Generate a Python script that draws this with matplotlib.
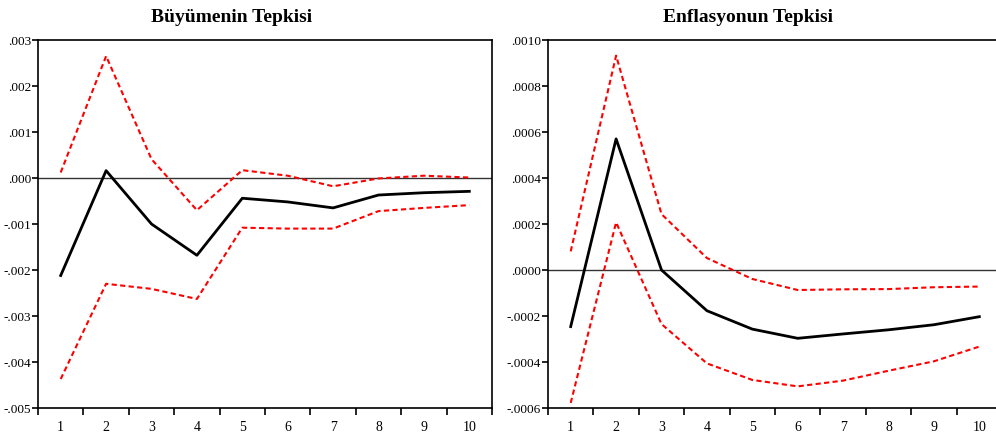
import matplotlib
matplotlib.use("Agg")
import matplotlib.pyplot as plt
from matplotlib.ticker import FuncFormatter, FixedLocator
import numpy as np

plt.rcParams['font.family'] = ['Liberation Serif', 'DejaVu Serif']

periods = np.arange(1, 11)

# Büyümenin Tepkisi
growth_resp = [-0.00212, 0.00016, -0.00100, -0.00168, -0.00044, -0.00052, -0.00065, -0.00037, -0.00032, -0.00029]
growth_upper = [0.00012, 0.00265, 0.00041, -0.00070, 0.00017, 0.00005, -0.00018, -0.00001, 0.00005, 0.00001]
growth_lower = [-0.00437, -0.00230, -0.00241, -0.00263, -0.00108, -0.00110, -0.00110, -0.00072, -0.00065, -0.00059]

# Enflasyonun Tepkisi
infl_resp = [-0.000246, 0.000570, 0.000000, -0.000177, -0.000257, -0.000297, -0.000278, -0.000260, -0.000238, -0.000203]
infl_upper = [0.000081, 0.000932, 0.000243, 0.000052, -0.000039, -0.000087, -0.000084, -0.000083, -0.000075, -0.000072]
infl_lower = [-0.000578, 0.000207, -0.000235, -0.000406, -0.000478, -0.000506, -0.000481, -0.000438, -0.000397, -0.000333]

growth_ticks = [-0.005, -0.004, -0.003, -0.002, -0.001, 0.0, 0.001, 0.002, 0.003]
infl_ticks = [-0.0006, -0.0004, -0.0002, 0.0, 0.0002, 0.0004, 0.0006, 0.0008, 0.0010]


def no_zero(decimals):
    def fmt(v, pos):
        s = f"{v:.{decimals}f}"
        if s.startswith("-0"):
            s = "-" + s[2:]
        elif s.startswith("0"):
            s = s[1:]
        return s
    return FuncFormatter(fmt)


W, H = 996, 439
fig = plt.figure(figsize=(W / 100, H / 100), dpi=100)
ax1 = fig.add_axes([38 / W, 1 - 409 / H, (492 - 38) / W, (409 - 41) / H])
ax2 = fig.add_axes([548 / W, 1 - 409 / H, (1002 - 548) / W, (409 - 41) / H])

panels = [
    (ax1, "Büyümenin Tepkisi", 232, growth_resp, growth_upper, growth_lower, growth_ticks, 3),
    (ax2, "Enflasyonun Tepkisi", 748, infl_resp, infl_upper, infl_lower, infl_ticks, 4),
]

for ax, title, tx, resp, up, lo, ticks, dec in panels:
    ax.axhline(0, color="#333333", lw=1.0, zorder=1)
    ax.plot(periods, up, color="red", lw=1.5, ls=(0, (2.5, 1.6)), zorder=2)
    ax.plot(periods, lo, color="red", lw=1.5, ls=(0, (2.5, 1.6)), zorder=2)
    ax.plot(periods, resp, color="black", lw=2.0, zorder=3)
    ax.set_xlim(0.5, 10.5)
    ax.set_ylim(ticks[0], ticks[-1])
    ax.set_yticks(ticks)
    ax.yaxis.set_major_formatter(no_zero(dec))
    ax.set_xticks(periods)
    ax.set_xticklabels([str(p) for p in periods])
    ax.xaxis.set_minor_locator(FixedLocator(np.arange(0.5, 11, 1)))
    ax.tick_params(axis="x", which="major", length=0, pad=9, labelsize=10)
    ax.tick_params(axis="x", which="minor", length=5, width=1.2, direction="out")
    ax.tick_params(axis="y", which="major", length=4, width=1.2, direction="out", pad=1, labelsize=9.5)
    for sp in ax.spines.values():
        sp.set_linewidth(1.2)
    fig.text(tx / W, 1 - 17 / H, title, fontsize=14, fontweight="bold",
             ha="center", va="center")

fig.savefig("out.png", dpi=100)
